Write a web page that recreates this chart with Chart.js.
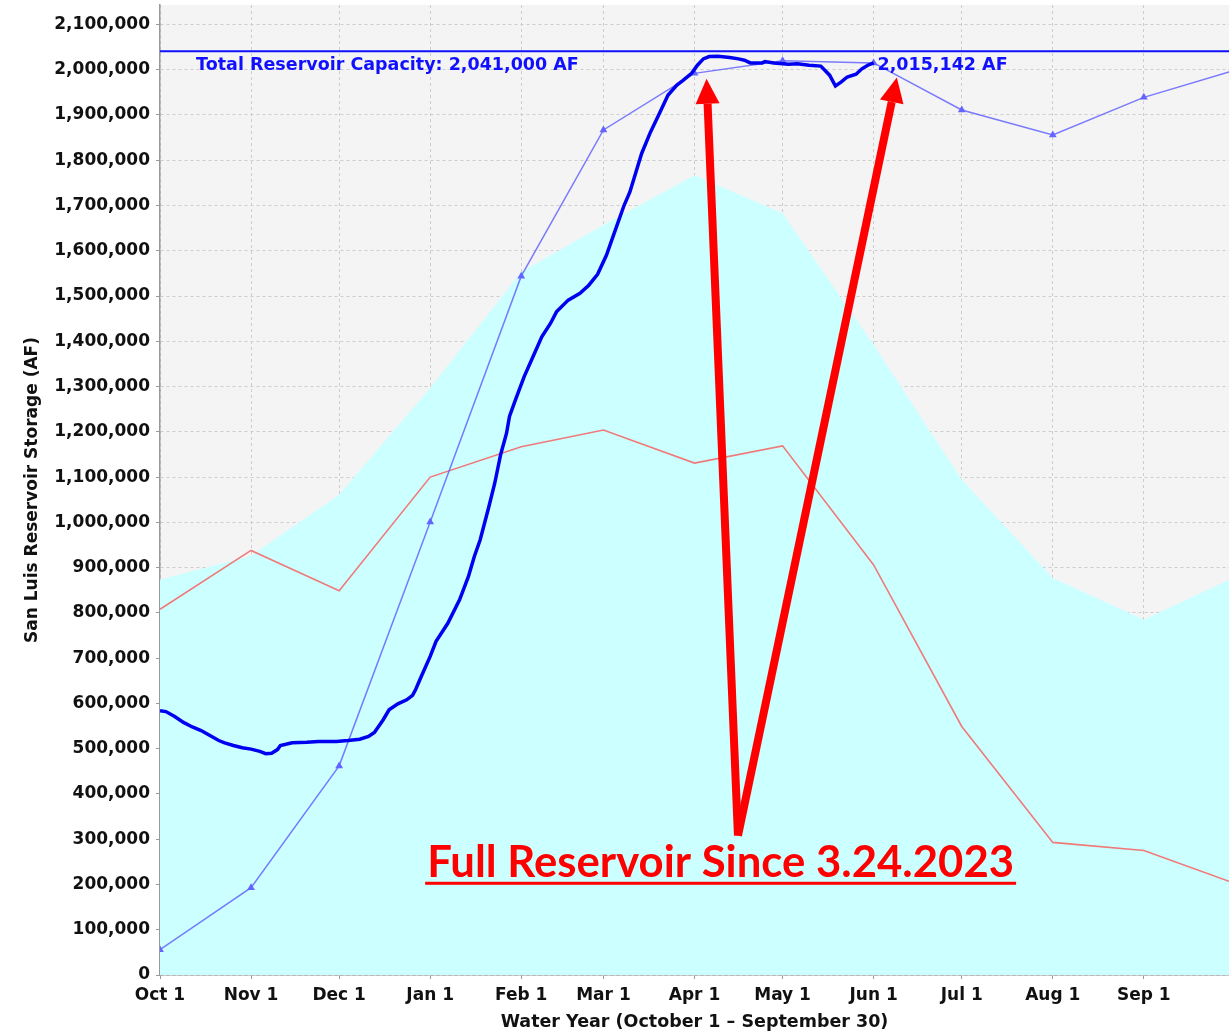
<!DOCTYPE html>
<html>
<head>
<meta charset="utf-8">
<title>San Luis Reservoir Storage</title>
<script src="https://cdn.jsdelivr.net/npm/chart.js@4.4.0/dist/chart.umd.min.js"></script>
<style>
  html, body { margin: 0; padding: 0; background: #fff; }
  #wrap { width: 1229px; height: 1033px; }
</style>
</head>
<body>
<div id="wrap"><canvas id="storageChart" width="1229" height="1033"></canvas></div>
<script>
// ==========================================
// 1. Data (x = days since Oct 1 of the water year)
// ==========================================
const monthDays = [0, 31, 61, 92, 123, 151, 182, 212, 243, 273, 304, 335];
const monthLabels = ['Oct 1', 'Nov 1', 'Dec 1', 'Jan 1', 'Feb 1', 'Mar 1', 'Apr 1', 'May 1', 'Jun 1', 'Jul 1', 'Aug 1', 'Sep 1'];

// monthly curves, last point = Sep 30
const curveDays = [0, 31, 61, 92, 123, 151, 182, 212, 243, 273, 304, 335, 364];
const averageStorage = [873000, 926000, 1061000, 1297000, 1553000, 1657000, 1767000, 1683000, 1392000, 1094000, 877000, 785000, 873000];
const priorYearStorage = [808000, 938000, 849000, 1100000, 1167000, 1204000, 1131000, 1169000, 906000, 549000, 293000, 275000, 207000];
const projectedStorage = [56000, 193000, 462000, 1001000, 1544000, 1867000, 1992000, 2020000, 2015000, 1911000, 1856000, 1939000, 1995000];

// current water year, daily readings
const currentDays = [0, 2, 5, 8, 11, 14, 17, 20, 22, 25, 28, 31, 34, 36, 38, 40, 41, 45, 50, 54,
  60, 64, 68, 71, 73, 76, 78, 81, 84, 86, 87, 88, 89, 92, 94, 98, 102, 105, 107, 109,
  112, 114, 116, 118, 119, 121, 124, 127, 130, 133, 135, 139, 143, 146, 149, 152, 155, 158, 160, 164,
  167, 170, 173, 176, 178, 181, 183, 185, 187, 190, 194, 197, 199, 201, 205, 206, 209, 214, 217, 221,
  225, 228, 230, 232, 234, 237, 239, 241, 243];
const currentStorage = [584000, 582000, 571000, 558000, 548000, 540000, 529000, 518000, 513000, 507000, 502000, 499000, 494000, 489000, 490000, 498000, 507000, 513000, 514000, 516000,
  516000, 518000, 521000, 527000, 536000, 564000, 586000, 599000, 608000, 618000, 630000, 645000, 660000, 704000, 737000, 777000, 829000, 880000, 924000, 961000,
  1035000, 1087000, 1150000, 1197000, 1234000, 1270000, 1322000, 1366000, 1410000, 1440000, 1465000, 1491000, 1506000, 1524000, 1548000, 1590000, 1645000, 1700000, 1730000, 1815000,
  1862000, 1903000, 1944000, 1966000, 1976000, 1992000, 2010000, 2024000, 2029000, 2030000, 2027000, 2024000, 2021000, 2015000, 2015000, 2018000, 2015000, 2012000, 2013000, 2010000,
  2008000, 1988000, 1964000, 1973000, 1984000, 1990000, 2002000, 2010000, 2015142];

const yTicks = [0, 100000, 200000, 300000, 400000, 500000, 600000, 700000, 800000, 900000, 1000000,
  1100000, 1200000, 1300000, 1400000, 1500000, 1600000, 1700000, 1800000, 1900000, 2000000, 2100000];

const capacity = 2041000;
const capacityLabel = 'Total Reservoir Capacity: 2,041,000 AF';
const latestLabel = '2,015,142 AF';
const calloutText = 'Full Reservoir Since 3.24.2023';

const toPoints = (xs, ys) => xs.map((x, i) => ({ x: x, y: ys[i] }));

// ==========================================
// 2. Plugins (plot background, annotations)
// ==========================================
const plotBackground = {
  id: 'plotBackground',
  beforeDraw(chart) {
    const { ctx, chartArea: a } = chart;
    ctx.save();
    ctx.fillStyle = '#f4f4f4';
    ctx.fillRect(a.left, a.top, a.right - a.left, a.bottom - a.top);
    ctx.restore();
  }
};

function drawArrow(ctx, x0, y0, x1, y1) {
  const ang = Math.atan2(y1 - y0, x1 - x0);
  const headLen = 25, headW = 12;
  const bx = x1 - headLen * Math.cos(ang), by = y1 - headLen * Math.sin(ang);
  ctx.lineWidth = 8;
  ctx.lineCap = 'butt';
  ctx.beginPath();
  ctx.moveTo(x0, y0);
  ctx.lineTo(bx, by);
  ctx.stroke();
  ctx.beginPath();
  ctx.moveTo(x1, y1);
  ctx.lineTo(bx + headW * Math.sin(ang), by - headW * Math.cos(ang));
  ctx.lineTo(bx - headW * Math.sin(ang), by + headW * Math.cos(ang));
  ctx.closePath();
  ctx.fill();
}

const annotations = {
  id: 'annotations',
  afterDatasetsDraw(chart) {
    const { ctx } = chart;
    const xs = chart.scales.x, ys = chart.scales.y;
    ctx.save();

    // capacity + latest value labels
    ctx.fillStyle = '#1010ff';
    ctx.font = 'bold 17.5px "DejaVu Sans"';
    ctx.textBaseline = 'alphabetic';
    ctx.textAlign = 'left';
    const labelY = ys.getPixelForValue(capacity) + 19;
    ctx.fillText(capacityLabel, xs.getPixelForValue(12.3), labelY);
    ctx.fillText(latestLabel, xs.getPixelForValue(244.3), labelY);

    // red arrows
    ctx.fillStyle = '#ff0000';
    ctx.strokeStyle = '#ff0000';
    const bx = xs.getPixelForValue(196.8), by = ys.getPixelForValue(308000);
    drawArrow(ctx, bx, by, xs.getPixelForValue(186.1), ys.getPixelForValue(1980000));
    drawArrow(ctx, bx, by, xs.getPixelForValue(250.9), ys.getPixelForValue(1983000));

    // callout text, underlined
    const cx = xs.getPixelForValue(190.9), cy = ys.getPixelForValue(217000);
    ctx.font = 'bold 44px Lato, "Open Sans", sans-serif';
    const w = ctx.measureText(calloutText).width;
    const targetW = 587;
    ctx.save();
    ctx.translate(cx, cy);
    ctx.scale(targetW / w, 1);
    ctx.textAlign = 'center';
    ctx.fillText(calloutText, 0, 0);
    ctx.restore();
    ctx.fillRect(cx - targetW / 2 - 2, cy + 5, targetW + 4, 3);

    ctx.restore();
  }
};

// ==========================================
// 3. Chart
// ==========================================
Chart.defaults.font.family = '"DejaVu Sans", sans-serif';

const tickFont = { size: 17, weight: 'bold' };

new Chart(document.getElementById('storageChart'), {
  type: 'line',
  data: {
    datasets: [
      {
        data: toPoints(curveDays, averageStorage),
        borderWidth: 0,
        backgroundColor: '#ccffff',
        fill: 'origin',
        pointRadius: 0,
        order: 5
      },
      {
        data: toPoints(curveDays, priorYearStorage),
        borderColor: '#f07a7a',
        borderWidth: 1.6,
        pointRadius: 0,
        fill: false,
        order: 4
      },
      {
        data: toPoints(curveDays, projectedStorage),
        borderColor: 'rgba(100,100,255,0.85)',
        borderWidth: 1.5,
        pointStyle: 'triangle',
        pointRadius: ctx => (ctx.dataIndex === curveDays.length - 1 ? 0 : 4.5),
        pointBackgroundColor: '#6464ff',
        pointBorderWidth: 0,
        fill: false,
        order: 3
      },
      {
        data: toPoints(currentDays, currentStorage),
        borderColor: '#0000f0',
        borderWidth: 3.5,
        pointRadius: 0,
        fill: false,
        order: 2
      },
      {
        data: toPoints([0, 364], [capacity, capacity]),
        borderColor: '#1010ff',
        borderWidth: 2,
        pointRadius: 0,
        fill: false,
        order: 1
      }
    ]
  },
  options: {
    responsive: false,
    devicePixelRatio: 1,
    animation: false,
    layout: { autoPadding: false, padding: { top: 5, right: 0, left: 0, bottom: 0 } },
    plugins: {
      legend: { display: false },
      tooltip: { enabled: false }
    },
    elements: { line: { tension: 0 } },
    scales: {
      x: {
        type: 'linear',
        min: 0,
        max: 364,
        afterBuildTicks: s => { s.ticks = monthDays.map(v => ({ value: v })); },
        afterFit: s => { s.height = 58; },
        ticks: {
          autoSkip: false,
          maxRotation: 0,
          color: '#111',
          font: tickFont,
          padding: 6,
          callback: (v, i) => monthLabels[i]
        },
        grid: { color: '#cdcdcd', tickColor: '#999', tickLength: 4 },
        border: { color: '#9a9a9a', width: 1.5, dash: [3, 3] },
        title: {
          display: true,
          text: 'Water Year (October 1 – September 30)',
          color: '#111',
          font: { size: 17.5, weight: 'bold' },
          padding: { top: 0, bottom: 0 }
        }
      },
      y: {
        min: 0,
        max: 2143000,
        afterBuildTicks: s => { s.ticks = yTicks.map(v => ({ value: v })); },
        afterFit: s => { s.width = 160; s.paddingTop = 0; s.paddingBottom = 0; },
        ticks: {
          color: '#111',
          font: tickFont,
          padding: 6,
          callback: v => v.toLocaleString('en-US')
        },
        grid: { color: '#cdcdcd', tickColor: '#999', tickLength: 4 },
        border: { color: '#9a9a9a', width: 1.5, dash: [3, 3] },
        title: {
          display: true,
          text: 'San Luis Reservoir Storage (AF)',
          color: '#111',
          font: { size: 17, weight: 'bold' },
          padding: { top: 22, bottom: 0 }
        }
      }
    }
  },
  plugins: [plotBackground, annotations]
});
</script>
</body>
</html>
